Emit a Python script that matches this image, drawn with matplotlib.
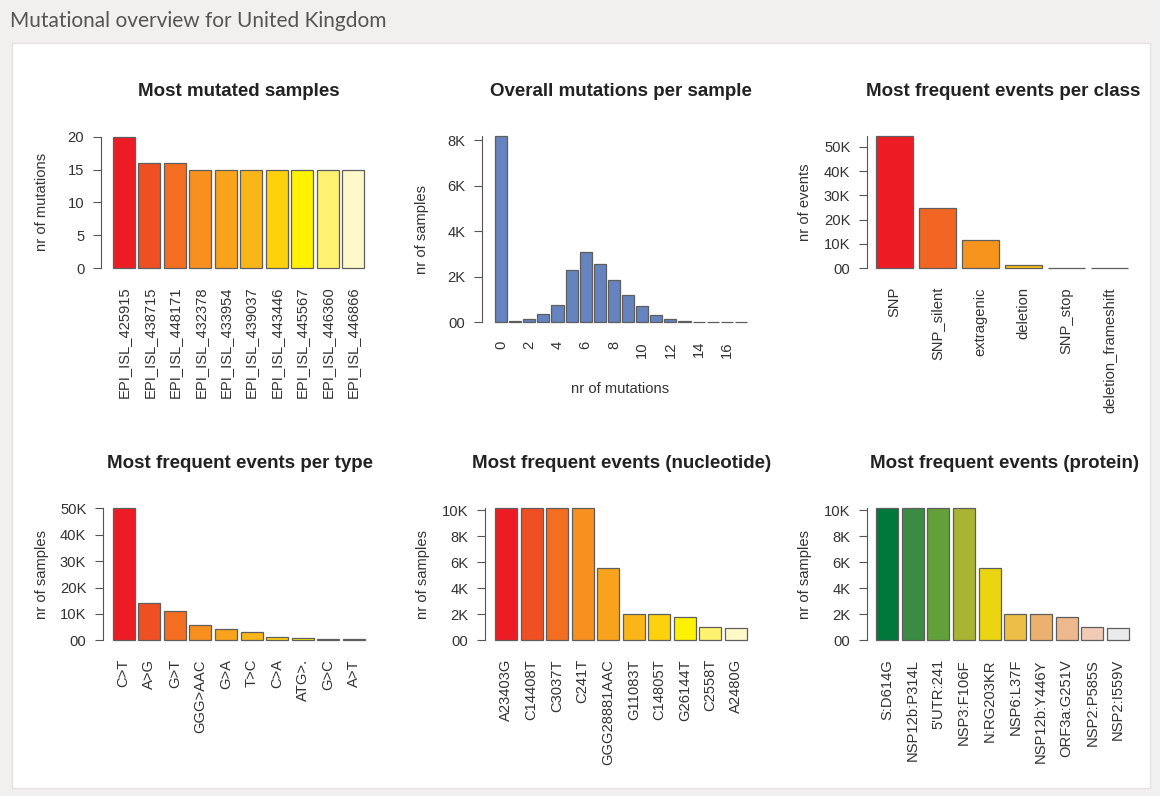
import matplotlib
matplotlib.use("Agg")
import matplotlib.pyplot as plt
from matplotlib.patches import Rectangle

plt.rcParams['font.family'] = ['Liberation Sans', 'DejaVu Sans']

W, H = 1160, 796

# --- data ---
sample_names = ['EPI_ISL_425915', 'EPI_ISL_438715', 'EPI_ISL_448171', 'EPI_ISL_432378',
                'EPI_ISL_433954', 'EPI_ISL_439037', 'EPI_ISL_443446', 'EPI_ISL_445567',
                'EPI_ISL_446360', 'EPI_ISL_446866']
sample_mutations = [20, 16, 16, 15, 15, 15, 15, 15, 15, 15]

hist_bins = list(range(18))
hist_counts = [8200, 50, 150, 350, 750, 2300, 3100, 2550, 1850, 1200, 700, 320, 150, 50,
               12, 8, 8, 8]

class_names = ['SNP', 'SNP_silent', 'extragenic', 'deletion', 'SNP_stop', 'deletion_frameshift']
class_counts = [54500, 24700, 11600, 1300, 300, 250]

type_names = ['C>T', 'A>G', 'G>T', 'GGG>AAC', 'G>A', 'T>C', 'C>A', 'ATG>.', 'G>C', 'A>T']
type_counts = [50200, 14000, 11000, 5800, 4200, 3300, 1100, 1000, 500, 400]

nuc_names = ['A23403G', 'C14408T', 'C3037T', 'C241T', 'GGG28881AAC', 'G11083T',
             'C14805T', 'G26144T', 'C2558T', 'A2480G']
nuc_counts = [10150, 10150, 10150, 10150, 5580, 2020, 2020, 1830, 1000, 980]

prot_names = ['S:D614G', 'NSP12b:P314L', "5'UTR:241", 'NSP3:F106F', 'N:RG203KR', 'NSP6:L37F',
              'NSP12b:Y446Y', 'ORF3a:G251V', 'NSP2:P585S', 'NSP2:I559V']
prot_counts = [10150, 10150, 10150, 10150, 5580, 2020, 2020, 1830, 1000, 980]

heat10 = ['#ED1C24', '#F04E23', '#F36E21', '#F7901E', '#F8A31B', '#FAB619',
          '#FDD10B', '#FFF200', '#FFF270', '#FFF8C8']
heat6 = ['#ED1C24', '#F26522', '#F7941D', '#FCC010', '#FFF200', '#FFF8C8']
green10 = ['#00773B', '#3A8B43', '#64A03A', '#A8B432', '#EBD513', '#EDBF46',
           '#EDB16F', '#EEB88F', '#F2CBB6', '#EBEBEB']
hist_color = '#6583BF'

LABEL_FS = 10.6

fig = plt.figure(figsize=(W / 100, H / 100), dpi=100)
fig.patch.set_facecolor('#F1F0EE')
fig.patches.append(Rectangle((12 / W, (H - 788) / H), (1150 - 12) / W, (788 - 43) / H,
                             transform=fig.transFigure, facecolor='white',
                             edgecolor='#E4E3E1', linewidth=1, zorder=-5))
fig.text(10 / W, 1 - 21 / H, 'Mutational overview for United Kingdom', family='Lato',
         fontsize=15, color='#555555', ha='left', va='center')


def kfmt(v):
    return '00' if v == 0 else '%dK' % (v // 1000)


def panel(x_axis, x_first, x_last, y0, yref, yref_val, values, colors, names, yticks,
          ylabels, title, ylabel, ylab_x, title_y, tick_pos=None, tick_names=None):
    n = len(values)
    width = 0.86
    sx = (x_last - x_first) / ((n - 1) + width)
    left = -width / 2 - (x_first - x_axis) / sx
    right = n - 1 + width / 2
    top_val = max(values)
    ytop = y0 - (y0 - yref) * top_val / yref_val
    ax = fig.add_axes([x_axis / W, (H - y0) / H, (x_last - x_axis) / W, (y0 - ytop) / H])
    ax.set_facecolor('none')
    ax.bar(range(n), values, width, color=colors, edgecolor='#5E5E5E', linewidth=0.9,
           clip_on=False)
    ax.set_xlim(left, right)
    ax.set_ylim(0, top_val)
    for s in ['top', 'right', 'bottom']:
        ax.spines[s].set_visible(False)
    ax.spines['left'].set_bounds(0, top_val)
    ax.spines['left'].set_color('#555555')
    ax.set_yticks(yticks)
    ax.set_yticklabels(ylabels)
    ax.tick_params(axis='y', length=6, color='#555555', labelsize=LABEL_FS,
                   labelcolor='#333333', pad=6)
    if tick_pos is None:
        tick_pos, tick_names = list(range(n)), names
    ax.set_xticks(tick_pos)
    ax.set_xticklabels(tick_names, rotation=90, va='top', ha='center')
    ax.tick_params(axis='x', length=0, labelsize=LABEL_FS, labelcolor='#333333', pad=13.5)
    cx = (x_axis + x_last) / 2 + 6
    fig.text(cx / W, 1 - title_y / H, title, fontsize=13.5, fontweight='bold',
             color='#222222', ha='center', va='center')
    fig.text(ylab_x / W, 1 - ((y0 + ytop) / 2) / H, ylabel, rotation=90, fontsize=LABEL_FS,
             color='#333333', ha='center', va='center')
    return ax


panel(101, 113, 364, 268, 136.7, 20, sample_mutations, heat10, sample_names,
      [0, 5, 10, 15, 20], ['0', '5', '10', '15', '20'],
      'Most mutated samples', 'nr of mutations', 42, 92)

ax2 = panel(482, 495, 747, 322.3, 140.3, 8000, hist_counts, hist_color, None,
            [0, 2000, 4000, 6000, 8000], [kfmt(v) for v in [0, 2000, 4000, 6000, 8000]],
            'Overall mutations per sample', 'nr of samples', 422, 92,
            tick_pos=hist_bins[::2], tick_names=[str(b) for b in hist_bins[::2]])
fig.text(((482 + 747) / 2 + 6) / W, 1 - 389 / H, 'nr of mutations', fontsize=LABEL_FS,
         color='#333333', ha='center', va='center')

ticks50 = [0, 10000, 20000, 30000, 40000, 50000]
panel(867, 876, 1128, 268.3, 146.7, 50000, class_counts, heat6, class_names,
      ticks50, [kfmt(v) for v in ticks50],
      'Most frequent events per class', 'nr of events', 805, 92)

panel(103, 112.7, 365, 640.3, 508.3, 50000, type_counts, heat10, type_names,
      ticks50, [kfmt(v) for v in ticks50],
      'Most frequent events per type', 'nr of samples', 42, 463)

ticks10 = [0, 2000, 4000, 6000, 8000, 10000]
panel(485, 495, 747, 640.3, 510.3, 10000, nuc_counts, heat10, nuc_names,
      ticks10, [kfmt(v) for v in ticks10],
      'Most frequent events (nucleotide)', 'nr of samples', 423, 463)

panel(867, 876, 1129, 640.3, 510.3, 10000, prot_counts, green10, prot_names,
      ticks10, [kfmt(v) for v in ticks10],
      'Most frequent events (protein)', 'nr of samples', 805, 463)

fig.savefig('out.png', dpi=100, facecolor=fig.get_facecolor())
